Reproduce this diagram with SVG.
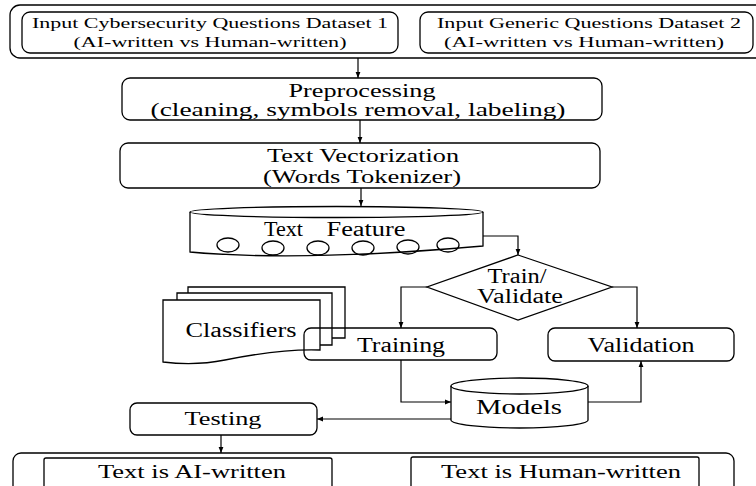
<svg xmlns="http://www.w3.org/2000/svg" width="756" height="486" viewBox="0 0 756 486">
<defs>
<style>
.s{fill:none;stroke:#000;stroke-width:1.3}
.w{fill:#fff;stroke:#000;stroke-width:1.3}
.c{fill:none;stroke:#000;stroke-width:1.2}
text{font-family:"Liberation Serif","Times New Roman",serif;fill:#000;text-anchor:middle}
.t14{font-size:14px}
.t19{font-size:19px}
.t20{font-size:20px}
.t22{font-size:22px}
.t18{font-size:18px}
</style>
<marker id="a" viewBox="0 0 10 10" refX="10" refY="5" markerWidth="6" markerHeight="6" orient="auto" markerUnits="userSpaceOnUse">
<path d="M0,1 L10,5 L0,9 Z" fill="#000"/>
</marker>
</defs>
<rect width="756" height="486" fill="#fff"/>

<g id="inputs">
<rect class="s" x="10" y="5" width="770" height="53" rx="10"/>
<g id="dataset1">
<rect class="s" x="22" y="12" width="376" height="41" rx="8"/>
<text class="t14" x="210" y="28" textLength="356" lengthAdjust="spacingAndGlyphs">Input Cybersecurity Questions Dataset 1</text>
<text class="t14" x="210" y="47" textLength="273" lengthAdjust="spacingAndGlyphs">(AI-written vs Human-written)</text>
</g>
<g id="dataset2">
<rect class="s" x="420" y="12" width="333" height="41" rx="8"/>
<text class="t14" x="589" y="28" textLength="304" lengthAdjust="spacingAndGlyphs">Input Generic Questions Dataset 2</text>
<text class="t14" x="584" y="47" textLength="280" lengthAdjust="spacingAndGlyphs">(AI-written vs Human-written)</text>
</g>
</g>

<g id="preprocessing">
<rect class="s" x="122" y="78" width="480" height="42" rx="8"/>
<text class="t19" x="362" y="97" textLength="147" lengthAdjust="spacingAndGlyphs">Preprocessing</text>
<text class="t19" x="358" y="116" textLength="415" lengthAdjust="spacingAndGlyphs">(cleaning, symbols removal, labeling)</text>
</g>

<g id="vectorization">
<rect class="s" x="120" y="143" width="480" height="45" rx="8"/>
<text class="t19" x="363" y="162" textLength="192" lengthAdjust="spacingAndGlyphs">Text Vectorization</text>
<text class="t19" x="362" y="183" textLength="198" lengthAdjust="spacingAndGlyphs">(Words Tokenizer)</text>
</g>

<g id="text-feature">
<path class="s" d="M190,212 V252 Q300,262 483,246 V212"/>
<ellipse class="s" cx="336.5" cy="212" rx="146.5" ry="5.5"/>
<text class="t20" y="236"><tspan x="286" textLength="39" lengthAdjust="spacingAndGlyphs">Text</tspan> <tspan x="366" textLength="79" lengthAdjust="spacingAndGlyphs">Feature</tspan></text>
<g class="s">
<ellipse cx="228" cy="245" rx="11" ry="7"/>
<ellipse cx="273" cy="248" rx="11" ry="7"/>
<ellipse cx="318" cy="248" rx="11" ry="7"/>
<ellipse cx="363" cy="248" rx="11" ry="7"/>
<ellipse cx="408" cy="247" rx="11" ry="7"/>
<ellipse cx="448" cy="245" rx="11" ry="7"/>
</g>
</g>

<g id="train-validate">
<path class="w" d="M518,255 L612,287 L518,320 L427,287 Z"/>
<text class="t20" x="517" y="283" textLength="59" lengthAdjust="spacingAndGlyphs">Train/</text>
<text class="t20" x="520" y="303" textLength="86" lengthAdjust="spacingAndGlyphs">Validate</text>
</g>

<g id="classifiers">
<path class="w" d="M188,287 H345 V338 H188 Z"/>
<path class="w" d="M177,293 H332 V345 H177 Z"/>
<path class="w" d="M163,300 H320 V350 C295,349 260,353 225,360 C200,365 180,364 163,362 Z"/>
<text class="t20" x="241" y="337" textLength="111" lengthAdjust="spacingAndGlyphs">Classifiers</text>
</g>

<g id="training">
<rect class="s" x="304" y="328" width="193" height="32" rx="7"/>
<text class="t20" x="401" y="352" textLength="88" lengthAdjust="spacingAndGlyphs">Training</text>
</g>

<g id="validation">
<rect class="s" x="548" y="328" width="186" height="33" rx="7"/>
<text class="t20" x="641" y="352" textLength="107" lengthAdjust="spacingAndGlyphs">Validation</text>
</g>

<g id="models">
<path class="w" d="M451,386 V420 A68.5,8 0 0 0 588,420 V386"/>
<ellipse class="s" cx="519.5" cy="386" rx="68.5" ry="8"/>
<text class="t22" x="519" y="414" textLength="86" lengthAdjust="spacingAndGlyphs">Models</text>
</g>

<g id="testing">
<rect class="s" x="130" y="403" width="187" height="32" rx="7"/>
<text class="t18" x="223" y="425" textLength="77" lengthAdjust="spacingAndGlyphs">Testing</text>
</g>

<g id="outputs">
<rect class="s" x="13" y="453" width="721" height="50" rx="8"/>
<g id="ai-written">
<rect class="s" x="44" y="458" width="288" height="40" rx="2"/>
<text class="t18" x="192" y="478" textLength="188" lengthAdjust="spacingAndGlyphs">Text is AI-written</text>
</g>
<g id="human-written">
<rect class="s" x="411" y="457" width="288" height="40" rx="2"/>
<text class="t18" x="561" y="478" textLength="240" lengthAdjust="spacingAndGlyphs">Text is Human-written</text>
</g>
</g>

<g id="connectors" class="c">
<path d="M358,58 V78" marker-end="url(#a)"/>
<path d="M360,120 V143" marker-end="url(#a)"/>
<path d="M361,188 V206" marker-end="url(#a)"/>
<path d="M483,236 H518 V255" marker-end="url(#a)"/>
<path d="M427,287 H401 V328" marker-end="url(#a)"/>
<path d="M612,287 H637 V328" marker-end="url(#a)"/>
<path d="M401,360 V402 H451" marker-end="url(#a)"/>
<path d="M588,402 H641 V361" marker-end="url(#a)"/>
<path d="M451,419 H317" marker-end="url(#a)"/>
<path d="M221,435 V453" marker-end="url(#a)"/>
</g>
</svg>
